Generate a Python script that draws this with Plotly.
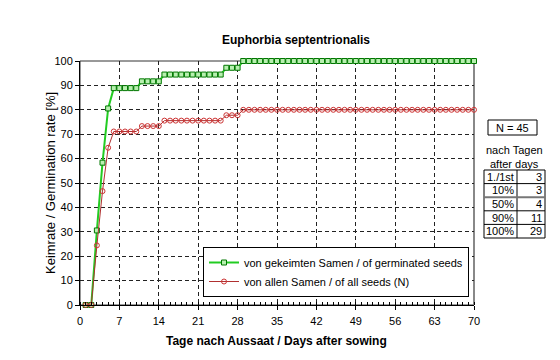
import plotly.graph_objects as go

# Data
days = list(range(1, 71))
germinated_count = [0, 0, 11, 21, 29, 32, 32, 32, 32, 32,
                    33, 33, 33, 33, 34, 34, 34, 34, 34, 34,
                    34, 34, 34, 34, 34, 35, 35, 35, 36, 36,
                    36, 36, 36, 36, 36, 36, 36, 36, 36, 36,
                    36, 36, 36, 36, 36, 36, 36, 36, 36, 36,
                    36, 36, 36, 36, 36, 36, 36, 36, 36, 36,
                    36, 36, 36, 36, 36, 36, 36, 36, 36, 36]
n_total = 45
n_germinated = 36
pct_germinated = [c / n_germinated * 100 for c in germinated_count]
pct_all = [c / n_total * 100 for c in germinated_count]

table_labels = ["1./1st", "10%", "50%", "90%", "100%"]
table_days = [3, 3, 4, 11, 29]

x_ticks = [0, 7, 14, 21, 28, 35, 42, 49, 56, 63, 70]
y_ticks = [0, 10, 20, 30, 40, 50, 60, 70, 80, 90, 100]

FONT = "Liberation Sans, Arial, sans-serif"
W, H = 560, 360
L, R, T, B = 72, 466, 53, 297


def px(x):
    return (x - L) / (R - L)


def py(y):
    return (B - y) / (B - T)


fig = go.Figure()
fig.add_trace(go.Scatter(
    x=days, y=pct_germinated, mode="lines+markers",
    name="von gekeimten Samen / of germinated seeds",
    line=dict(color="#22CC22", width=2),
    marker=dict(symbol="square", size=5, color="#B8F0B0",
                line=dict(color="#007700", width=1)),
    cliponaxis=False,
))
fig.add_trace(go.Scatter(
    x=days, y=pct_all, mode="lines+markers",
    name="von allen Samen / of all seeds (N)",
    line=dict(color="#B03030", width=1),
    marker=dict(symbol="circle-open", size=5, color="#CC3333",
                line=dict(color="#CC3333", width=1)),
    cliponaxis=False,
))

shapes = []
# plot frame
shapes.append(dict(type="rect", xref="paper", yref="paper", x0=0, x1=1, y0=0, y1=1,
                   line=dict(color="#333333", width=1), layer="below"))
shapes.append(dict(type="line", xref="paper", yref="paper", x0=1, x1=1, y0=0, y1=1,
                   line=dict(color="#888888", width=2), layer="below"))

annotations = []
annotations.append(dict(text="<b>Euphorbia septentrionalis</b>", xref="paper", yref="paper",
                        x=px(288), y=py(32), showarrow=False, xanchor="center", yanchor="middle",
                        font=dict(family=FONT, size=12, color="black")))
annotations.append(dict(text="<b>Tage nach Aussaat / Days after sowing</b>", xref="paper", yref="paper",
                        x=px(268), y=py(333), showarrow=False, xanchor="center", yanchor="middle",
                        font=dict(family=FONT, size=12, color="black")))
annotations.append(dict(text="Keimrate / Germination rate [%]", xref="paper", yref="paper",
                        x=px(42), y=py(175), showarrow=False, xanchor="center", yanchor="middle",
                        textangle=-90, font=dict(family=FONT, size=13, color="black")))

# N box
shapes.append(dict(type="rect", xref="paper", yref="paper", x0=px(480), x1=px(529), y0=py(127), y1=py(112),
                   line=dict(color="black", width=1), fillcolor="white"))
annotations.append(dict(text="N = " + str(n_total), xref="paper", yref="paper", x=px(504.5), y=py(119.5),
                        showarrow=False, xanchor="center", yanchor="middle",
                        font=dict(family=FONT, size=11, color="black")))
annotations.append(dict(text="nach Tagen", xref="paper", yref="paper", x=px(506), y=py(142),
                        showarrow=False, xanchor="center", yanchor="middle",
                        font=dict(family=FONT, size=11, color="black")))
annotations.append(dict(text="after days", xref="paper", yref="paper", x=px(506), y=py(156),
                        showarrow=False, xanchor="center", yanchor="middle",
                        font=dict(family=FONT, size=11, color="black")))

# table
tx0, tx1, tmid = 476, 537, 509
ty0, rowh = 162, 13.6
nrows = len(table_labels)
shapes.append(dict(type="rect", xref="paper", yref="paper", x0=px(tx0), x1=px(tx1),
                   y0=py(ty0 + rowh * nrows), y1=py(ty0), line=dict(color="black", width=1)))
shapes.append(dict(type="line", xref="paper", yref="paper", x0=px(tmid), x1=px(tmid),
                   y0=py(ty0 + rowh * nrows), y1=py(ty0), line=dict(color="black", width=1)))
for i in range(1, nrows):
    yy = ty0 + rowh * i
    shapes.append(dict(type="line", xref="paper", yref="paper", x0=px(tx0), x1=px(tx1),
                       y0=py(yy), y1=py(yy),
                       line=dict(color="#777777" if i == 2 else "black", width=2 if i == 2 else 1)))
for i, (lab, d) in enumerate(zip(table_labels, table_days)):
    yc = ty0 + rowh * (i + 0.5)
    annotations.append(dict(text=lab, xref="paper", yref="paper", x=px(tmid - 1), y=py(yc),
                            showarrow=False, xanchor="right", yanchor="middle",
                            font=dict(family=FONT, size=11, color="black")))
    annotations.append(dict(text=str(d), xref="paper", yref="paper", x=px(tx1 - 1), y=py(yc),
                            showarrow=False, xanchor="right", yanchor="middle",
                            font=dict(family=FONT, size=11, color="black")))

fig.update_layout(
    width=W, height=H,
    margin=dict(l=L, r=W - R, t=T, b=H - B, pad=0),
    paper_bgcolor="white", plot_bgcolor="white",
    font=dict(family=FONT, size=11, color="black"),
    showlegend=True,
    legend=dict(x=px(461), y=py(289), xanchor="right", yanchor="bottom",
                bgcolor="white", bordercolor="black", borderwidth=1,
                font=dict(family=FONT, size=11, color="black"),
                itemwidth=30, tracegroupgap=0),
    shapes=shapes, annotations=annotations,
)
fig.update_xaxes(
    range=[0, 70], tickmode="array", tickvals=x_ticks, ticktext=[str(v) for v in x_ticks],
    showgrid=True, gridcolor="#222222", griddash="4px,3px", gridwidth=1,
    showline=True, linecolor="black", linewidth=1,
    ticks="outside", ticklen=4, tickcolor="black", ticklabelstandoff=2,
    minor=dict(dtick=1, tick0=0, ticks="inside", ticklen=3, tickcolor="black", showgrid=False),
    zeroline=False, fixedrange=True,
)
fig.update_yaxes(
    range=[0, 100], tickmode="array", tickvals=y_ticks, ticktext=[str(v) for v in y_ticks],
    showgrid=True, gridcolor="#222222", griddash="4px,3px", gridwidth=1,
    showline=True, linecolor="black", linewidth=1,
    ticks="outside", ticklen=4, tickcolor="black",
    zeroline=False, fixedrange=True,
)

fig.write_html("out.html")
